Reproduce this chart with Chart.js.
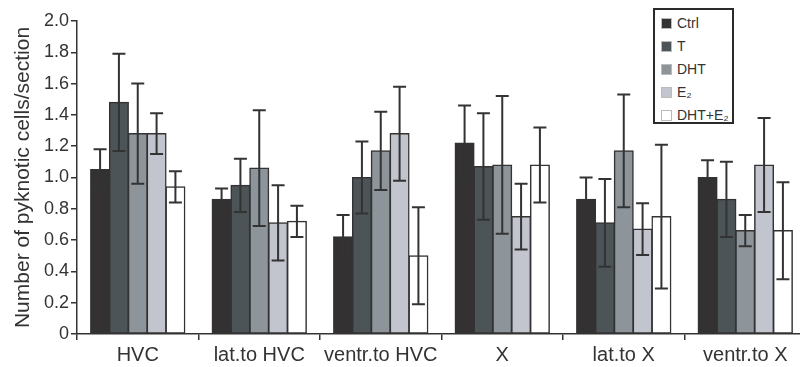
<!DOCTYPE html>
<html>
<head>
<meta charset="utf-8">
<title>Pyknotic cells</title>
<script src="https://cdn.jsdelivr.net/npm/chart.js@4/dist/chart.umd.min.js"></script>
<style>
  html, body { margin: 0; padding: 0; background: #fff; overflow: hidden; }
  #wrap { position: relative; width: 808px; height: 367px; }
  #legend {
    position: absolute; left: 653px; top: 8px; width: 77px; height: 112px;
    border: 2px solid #2a2a2a; background: #fff;
    font-family: "Liberation Sans", Arial, sans-serif; font-size: 14px; color: #333;
  }
  #legend .row { position: absolute; left: 6px; height: 14px; line-height: 14px; white-space: nowrap; }
  #legend .box { display: inline-block; width: 11px; height: 11px; border: 1px solid #bbb;
    vertical-align: -1px; margin-right: 5px; box-sizing: border-box; }
</style>
</head>
<body>
<div id="wrap">
  <canvas id="chart"></canvas>
  <div id="legend"></div>
</div>
<script>
// 数据
const regions = ['HVC', 'lat.to HVC', 'ventr.to HVC', 'X', 'lat.to X', 'ventr.to X'];
const groups = ['Ctrl', 'T', 'DHT', 'E₂', 'DHT+E₂'];
const colors = ['#333132', '#4d5457', '#8d949a', '#c2c5ce', '#ffffff'];

const ctrlMean = [1.05, 0.86, 0.62, 1.22, 0.86, 1.00];
const tMean    = [1.48, 0.95, 1.00, 1.07, 0.71, 0.86];
const dhtMean  = [1.28, 1.06, 1.17, 1.08, 1.17, 0.66];
const e2Mean   = [1.28, 0.71, 1.28, 0.75, 0.67, 1.08];
const dhtE2Mean = [0.94, 0.72, 0.50, 1.08, 0.75, 0.66];

const ctrlErr  = [0.13, 0.07, 0.14, 0.24, 0.14, 0.11];
const tErr     = [0.31, 0.17, 0.23, 0.34, 0.28, 0.24];
const dhtErr   = [0.32, 0.37, 0.25, 0.44, 0.36, 0.10];
const e2Err    = [0.13, 0.24, 0.30, 0.21, 0.165, 0.30];
const dhtE2Err = [0.10, 0.10, 0.31, 0.24, 0.46, 0.31];

const yTicks = [0, 0.2, 0.4, 0.6, 0.8, 1.0, 1.2, 1.4, 1.6, 1.8, 2.0];

const means = [ctrlMean, tMean, dhtMean, e2Mean, dhtE2Mean];
const errs = [ctrlErr, tErr, dhtErr, e2Err, dhtE2Err];

const FONT = '"Liberation Sans", Arial, sans-serif';
const INK = '#333';

// 误差线
const errorBars = {
    id: 'errorBars',
    afterDatasetsDraw(chart) {
        const ctx = chart.ctx;
        const y = chart.scales.y;
        chart.data.datasets.forEach((ds, i) => {
            const meta = chart.getDatasetMeta(i);
            meta.data.forEach((bar, j) => {
                const v = ds.data[j], e = ds.errors[j];
                const top = y.getPixelForValue(v + e);
                const bot = y.getPixelForValue(v - e);
                ctx.save();
                ctx.strokeStyle = INK;
                ctx.lineWidth = 2;
                ctx.beginPath();
                ctx.moveTo(bar.x, top); ctx.lineTo(bar.x, bot);
                ctx.moveTo(bar.x - 6.5, top); ctx.lineTo(bar.x + 6.5, top);
                ctx.moveTo(bar.x - 6.5, bot); ctx.lineTo(bar.x + 6.5, bot);
                ctx.stroke();
                ctx.restore();
            });
        });
    }
};

const chart = new Chart(document.getElementById('chart'), {
    type: 'bar',
    data: {
        labels: regions,
        datasets: groups.map((g, i) => ({
            label: g,
            data: means[i],
            errors: errs[i],
            backgroundColor: colors[i],
            borderColor: INK,
            borderWidth: 1.5,
            borderSkipped: false,
            inflateAmount: 0.6,
            categoryPercentage: 0.775,
            barPercentage: 1.0
        }))
    },
    options: {
        responsive: true,
        maintainAspectRatio: false,
        animation: false,
        layout: { padding: { top: 21, right: 2, left: 0, bottom: 0 } },
        plugins: {
            legend: { display: false },
            tooltip: { enabled: false }
        },
        scales: {
            x: {
                grid: { display: true, drawOnChartArea: false, offset: true, tickLength: 6, color: INK, lineWidth: 1.5 },
                border: { display: true, color: INK, width: 1.5 },
                ticks: { color: INK, font: { family: FONT, size: 20 }, padding: 3, maxRotation: 0, autoSkip: false },
                afterFit(scale) { scale.height = 33; }
            },
            y: {
                min: 0,
                max: 2,
                afterBuildTicks(scale) { scale.ticks = yTicks.map(v => ({ value: v })); },
                grid: { display: true, drawOnChartArea: false, tickLength: 6, color: INK, lineWidth: 1.5 },
                border: { display: true, color: INK, width: 1.5 },
                ticks: {
                    color: INK,
                    font: { family: FONT, size: 18 },
                    padding: 2,
                    callback: (v) => v === 0 ? '0' : Number(v).toFixed(1)
                },
                title: {
                    display: true,
                    text: 'Number of pyknotic cells/section',
                    color: INK,
                    font: { family: FONT, size: 21 },
                    padding: { top: 11, bottom: 0 }
                },
                afterFit(scale) { scale.width = 77; }
            }
        }
    },
    plugins: [errorBars]
});

// 图例
const legend = document.getElementById('legend');
const rowTops = [6, 29, 52, 75, 98];
chart.data.datasets.forEach((ds, i) => {
    const row = document.createElement('div');
    row.className = 'row';
    row.style.top = rowTops[i] + 'px';
    const box = document.createElement('span');
    box.className = 'box';
    box.style.background = ds.backgroundColor;
    row.appendChild(box);
    row.appendChild(document.createTextNode(ds.label));
    legend.appendChild(row);
});
</script>
</body>
</html>
